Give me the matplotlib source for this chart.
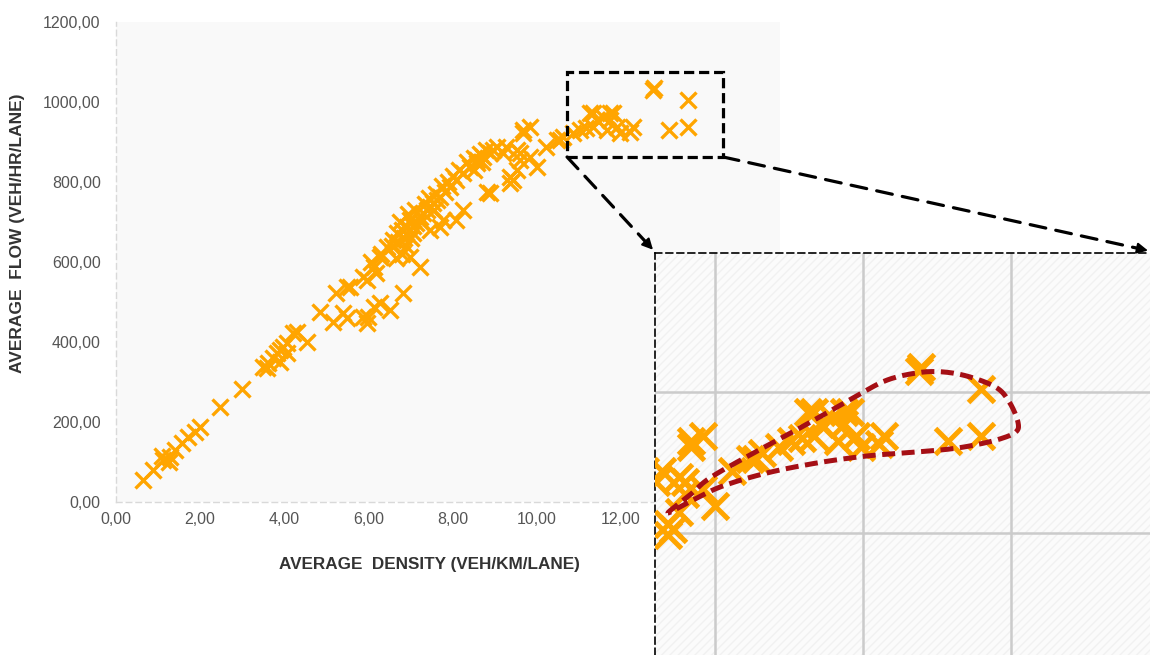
import numpy as np
import matplotlib
matplotlib.use("Agg")
import matplotlib.pyplot as plt
from matplotlib.patches import Rectangle, ConnectionPatch
from matplotlib.ticker import FuncFormatter

plt.rcParams["font.family"] = ["Liberation Sans", "DejaVu Sans"]

# ---- observations: average density (veh/km/lane) vs average flow (veh/hr/lane)
density = [
    0.65, 0.89, 1.12, 1.28, 1.40, 1.56, 1.72, 1.88, 2.00, 1.10, 1.25,
    2.47, 2.99,
    3.50, 3.58, 3.62, 3.74, 3.82, 3.90, 3.90, 3.98, 4.06, 4.06, 4.21, 4.29, 4.53,
    4.85, 5.16, 5.24, 5.40, 5.48, 5.48, 5.56, 5.88, 5.96, 6.00, 6.12, 6.27, 6.51, 6.83,
    5.88, 5.96, 6.12, 6.19, 6.27, 6.43, 6.59, 6.67, 6.79, 6.91, 6.99, 7.07, 7.14,
    7.22, 7.30, 7.38, 7.46, 7.54, 7.62, 7.70, 7.82, 7.94, 8.09, 8.25, 8.41, 8.57,
    8.73, 8.89, 9.05, 9.20,
    6.55, 6.70, 6.75, 6.85, 6.95, 7.05, 7.10, 7.25, 7.35, 7.45, 7.55, 7.60, 7.75,
    7.90, 8.00, 8.15, 8.35, 8.50, 8.65, 8.80, 8.50, 8.70, 6.65, 6.90, 7.00, 6.80,
    6.05, 6.30,
    7.22, 6.99, 7.46, 7.70, 7.78, 8.09, 8.25, 8.81, 8.89,
    9.36, 9.52, 9.60, 9.52, 9.68, 9.84, 10.00, 9.36, 9.28, 9.44, 9.60,
    10.23, 10.63, 9.68, 9.84, 10.55, 10.47, 8.97, 8.57,
    12.76, 12.79, 13.60, 13.60, 13.15, 12.29, 12.22, 11.90, 11.74, 11.58, 11.42,
    11.34, 11.18, 11.03, 10.87, 11.66, 11.82, 11.98, 11.26, 11.34, 11.74,
]
flow = [
    55, 80, 105, 113, 130, 147, 163, 176, 188, 115, 100,
    238, 282,
    338, 334, 347, 359, 372, 380, 351, 388, 397, 372, 422, 426, 401,
    476, 451, 522, 472, 538, 459, 538, 463, 447, 463, 488, 497, 480, 522,
    563, 555, 588, 572, 613, 638, 655, 672, 680, 688, 705, 672, 697,
    713, 722, 730, 738, 747, 755, 763, 776, 788, 805, 822, 838, 847,
    863, 872, 888, 872,
    640, 650, 700, 660, 720, 690, 730, 700, 745, 760, 730, 770, 790,
    800, 815, 830, 850, 860, 870, 880, 830, 850, 610, 640, 660, 620,
    600, 620,
    588, 613, 680, 688, 705, 705, 730, 776, 772,
    813, 830, 855, 880, 922, 863, 838, 797, 888, 805, 872,
    888, 913, 930, 938, 905, 905, 880, 855,
    1030, 1035, 1004, 938, 930, 938, 926, 938, 955, 963, 955,
    938, 934, 930, 922, 930, 972, 922, 972, 972, 972,
]

x_ticks = [0, 2, 4, 6, 8, 10, 12, 14]
y_ticks = [0, 200, 400, 600, 800, 1000, 1200]

# zoomed window (same data, magnified) and its grid
zoom_xlim = (9.19, 15.88)
zoom_ylim = (627, 1197)
zoom_xgrid = [10, 12, 14]
zoom_ygrid = [800, 1000]

# region highlighted on the main chart
box_x = (10.72, 14.43)
box_y = (862.5, 1075)

# outline of the capacity loop inside the zoomed window
loop_x = [9.365, 9.662, 9.932, 10.473, 11.149, 11.824, 12.297, 12.730, 13.081,
          13.446, 13.811, 13.986, 14.095, 14.068, 13.851, 13.514, 13.176,
          12.730, 12.054, 11.378, 10.703, 10.108, 9.730]
loop_y = [828.4, 853.9, 878.0, 910.6, 948.9, 988.7, 1015.6, 1027.0, 1028.4,
          1021.3, 1005.7, 984.4, 957.4, 943.3, 933.3, 924.8, 919.1,
          914.9, 909.2, 899.3, 885.1, 866.7, 848.2]

MARK = "#FFA500"
W, H = 1150, 655

fig = plt.figure(figsize=(W / 100, H / 100), dpi=100)
fig.patch.set_facecolor("white")

# ---- main chart
ax = fig.add_axes([116 / W, 1 - 502 / H, (780 - 116) / W, (502 - 22) / H])
ax.set_facecolor("#f9f9f9")
ax.plot(density, flow, linestyle="none", marker="x", ms=11.5, mew=2.4,
        color=MARK, zorder=3)
ax.set_xlim(0, 15.78)
ax.set_ylim(0, 1200)
ax.set_xticks(x_ticks)
ax.set_yticks(y_ticks)
comma = FuncFormatter(lambda v, p: f"{v:.2f}".replace(".", ","))
ax.xaxis.set_major_formatter(comma)
ax.yaxis.set_major_formatter(comma)
ax.tick_params(length=0, labelsize=11.5, colors="#555555")
ax.tick_params(axis="y", pad=11)
ax.tick_params(axis="x", pad=7)
for s in ("top", "right"):
    ax.spines[s].set_visible(False)
for s in ("left", "bottom"):
    ax.spines[s].set_color("#d9d9d9")
    ax.spines[s].set_linewidth(1.0)
    ax.spines[s].set_linestyle((0, (4, 3)))

fig.text(18 / W, 1 - 233 / H, "AVERAGE  FLOW (VEH/HR/LANE)", rotation=90,
         ha="center", va="center", fontsize=12.5, fontweight="bold", color="#333333")
fig.text(429 / W, 1 - 565 / H, "AVERAGE  DENSITY (VEH/KM/LANE)",
         ha="center", va="center", fontsize=12.3, fontweight="bold", color="#333333")

# highlighted window
ax.add_patch(Rectangle((box_x[0], box_y[0]), box_x[1] - box_x[0], box_y[1] - box_y[0],
                       fill=False, ec="black", lw=2.3, ls=(0, (3.2, 1.5)), zorder=5))

# ---- magnified view
axin = fig.add_axes([655 / W, 0, (W - 655) / W, (H - 253) / H])
axin.set_facecolor("#fbfbfb")
axin.add_patch(Rectangle((0, 0), 1, 1, transform=axin.transAxes, facecolor="none",
                         edgecolor="#f1f1f1", hatch="////", lw=0, zorder=0))
axin.set_xlim(*zoom_xlim)
axin.set_ylim(*zoom_ylim)
axin.set_xticks(zoom_xgrid)
axin.set_yticks(zoom_ygrid)
axin.tick_params(length=0, labelbottom=False, labelleft=False)
axin.set_axisbelow(True)
axin.grid(True, color="#cbcbcb", lw=1.8)
axin.plot(density, flow, linestyle="none", marker="x", ms=19, mew=3.6,
          color=MARK, zorder=3)


def closed_spline(px, py, n=24):
    P = np.column_stack([px, py])
    m = len(P)
    t = np.linspace(0, 1, n, endpoint=False)[:, None]
    out = []
    for i in range(m):
        p0, p1, p2, p3 = P[i - 1], P[i], P[(i + 1) % m], P[(i + 2) % m]
        seg = 0.5 * ((2 * p1) + (-p0 + p2) * t + (2 * p0 - 5 * p1 + 4 * p2 - p3) * t ** 2
                     + (-p0 + 3 * p1 - 3 * p2 + p3) * t ** 3)
        out.append(seg)
    out.append(P[:1])
    out = np.vstack(out)
    return out[:, 0], out[:, 1]


lx, ly = closed_spline(loop_x, loop_y)
axin.plot(lx, ly, color="#a50f15", lw=3.6, ls=(0, (2.6, 1.3)), zorder=4)

for s in ("right", "bottom"):
    axin.spines[s].set_visible(False)
for s in ("left", "top"):
    axin.spines[s].set_color("black")
    axin.spines[s].set_linewidth(1.2)
    axin.spines[s].set_linestyle((0, (4, 2.6)))

# ---- connectors from the highlighted window to the magnified view
starts = [(box_x[0], box_y[0]), (box_x[1], box_y[0])]
ends = [(-0.004, 1.008), (0.996, 1.006)]
for a, b in zip(starts, ends):
    pa = ax.transData.transform(a)
    pb = axin.transAxes.transform(b)
    d = (pb - pa) / np.hypot(*(pb - pa))
    pmid = pb - d * 12
    fig.add_artist(ConnectionPatch(xyA=tuple(pa), coordsA="figure pixels",
                                   xyB=tuple(pmid), coordsB="figure pixels",
                                   color="black", lw=2.3, ls=(0, (5, 3.2)),
                                   zorder=10))
    fig.add_artist(ConnectionPatch(xyA=tuple(pb - d * 14), coordsA="figure pixels",
                                   xyB=tuple(pb), coordsB="figure pixels",
                                   arrowstyle="-|>", mutation_scale=16,
                                   color="black", lw=1.5, zorder=10))

fig.savefig("out.png", dpi=100)
